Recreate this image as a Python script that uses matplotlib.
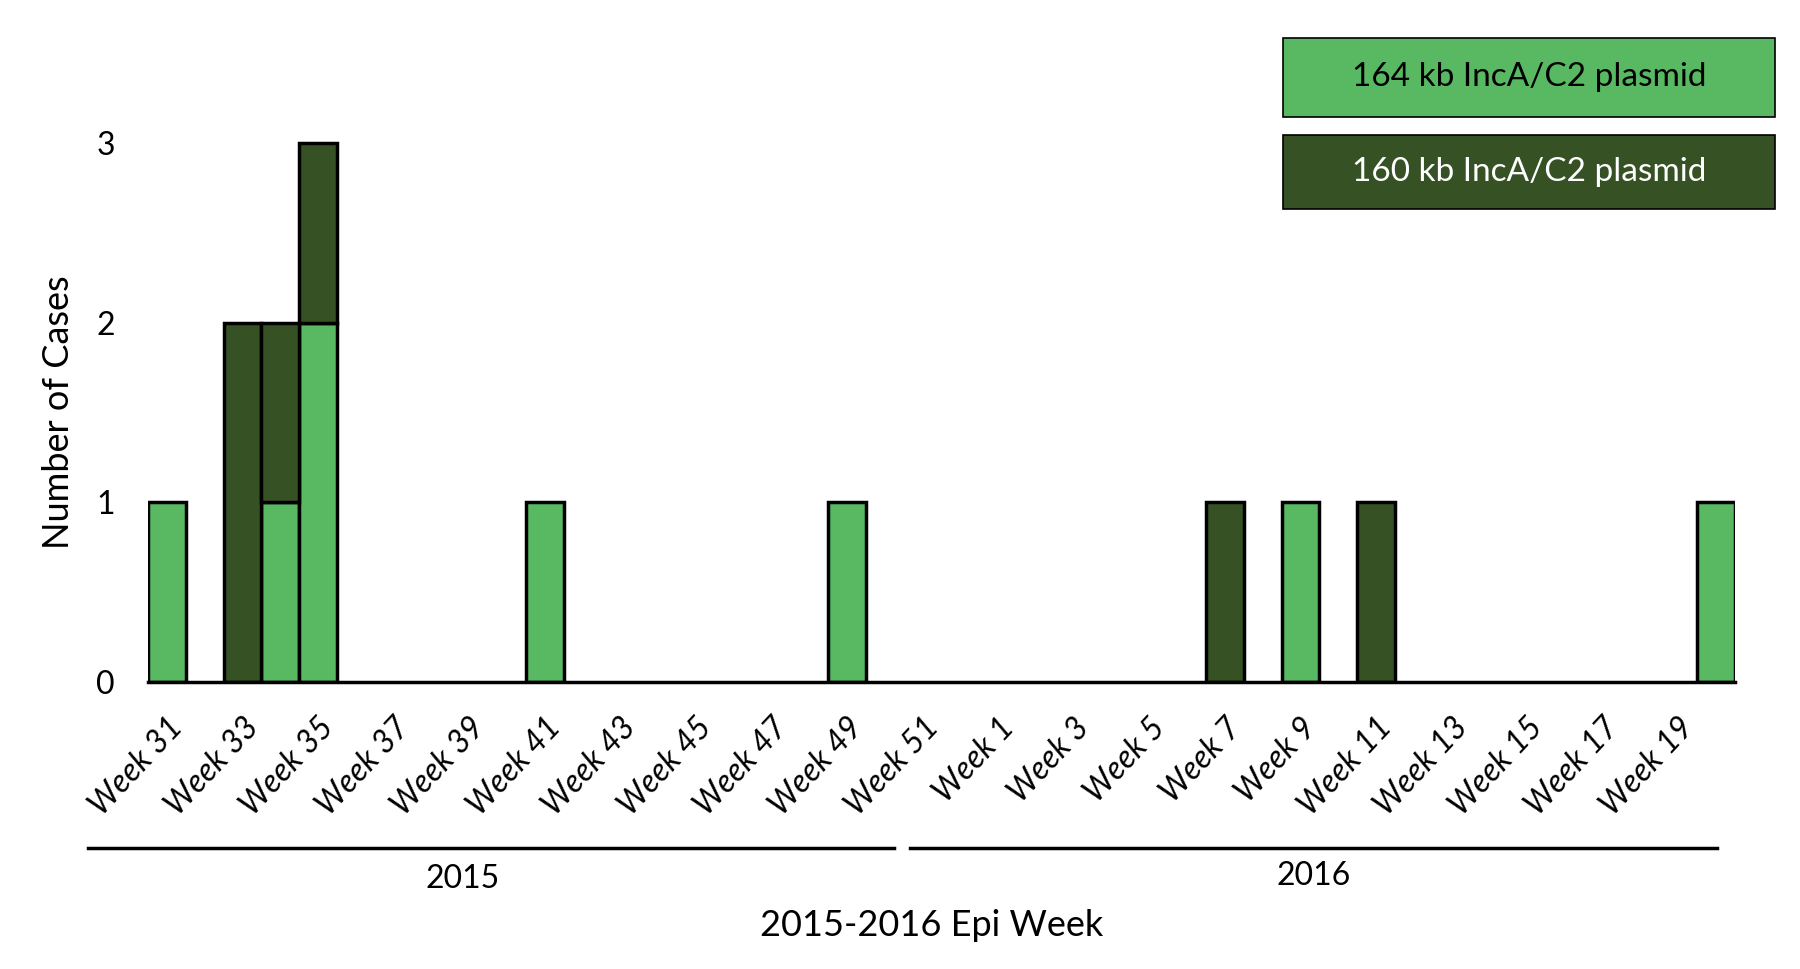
import matplotlib.pyplot as plt
from matplotlib.patches import Rectangle
from matplotlib.lines import Line2D
import numpy as np

plt.rcParams['font.family'] = ['Lato', 'DejaVu Sans']

# epi weeks 31-52 of 2015, then weeks 1-20 of 2016
weeks_2015 = list(range(31, 53))
weeks_2016 = list(range(1, 21))
light_2015 = [1, 0, 0, 1, 2, 0, 0, 0, 0, 0, 1, 0, 0, 0, 0, 0, 0, 0, 1, 0, 0, 0]
dark_2015 = [0, 0, 2, 1, 1, 0, 0, 0, 0, 0, 0, 0, 0, 0, 0, 0, 0, 0, 0, 0, 0, 0]
light_2016 = [0, 0, 0, 0, 0, 0, 0, 0, 1, 0, 0, 0, 0, 0, 0, 0, 0, 0, 0, 1]
dark_2016 = [0, 0, 0, 0, 0, 0, 1, 0, 0, 0, 1, 0, 0, 0, 0, 0, 0, 0, 0, 0]
series_names = ['164 kb IncA/C2 plasmid', '160 kb IncA/C2 plasmid']
years = ['2015', '2016']

light_col = '#58B962'
dark_col = '#365224'

labels = ['Week %d' % w for w in weeks_2015 + weeks_2016]
light = np.array(light_2015 + light_2016)
dark = np.array(dark_2015 + dark_2016)
x = np.arange(len(labels))

fig = plt.figure(figsize=(18, 9.69), dpi=100)
ax = fig.add_axes([0.0822, 0.2962, 0.8817, 0.6484])

m = light > 0
ax.bar(x[m], light[m], width=1.0, color=light_col, edgecolor='black', linewidth=2.5)
m = dark > 0
ax.bar(x[m], dark[m], width=1.0, bottom=light[m], color=dark_col, edgecolor='black', linewidth=2.5)

ax.set_xlim(-0.5, len(labels) - 0.5)
ax.set_ylim(0, 3.5)
ax.set_yticks([0, 1, 2, 3])
ax.tick_params(axis='y', length=0, labelsize=23, pad=24)
ax.set_xticks(x[::2])
ax.set_xticklabels(labels[::2], rotation=47, ha='right', va='top',
                   rotation_mode='anchor', fontsize=23, style='italic')
ax.tick_params(axis='x', length=0, pad=22)
for s in ['top', 'right', 'left']:
    ax.spines[s].set_visible(False)
ax.spines['bottom'].set_linewidth(2.5)

ax.set_ylabel('Number of Cases', fontsize=26)
ax.yaxis.set_label_coords(-0.046, 0.43)

# year brackets under the week labels
H = 969.0
W = 1800.0
for (x0, x1), yr, tx, ty in [((88, 894), years[0], 463, 879), ((910, 1717), years[1], 1314, 876)]:
    fig.add_artist(Line2D([x0 / W, x1 / W], [1 - 848 / H, 1 - 848 / H], color='black', lw=2.5))
    fig.text(tx / W, 1 - ty / H, yr, ha='center', va='center', fontsize=23)
fig.text(932 / W, 1 - 925 / H, '2015-2016 Epi Week', ha='center', va='center', fontsize=26)

# legend boxes
for (y0, y1), name, col, tcol in [((38, 117), series_names[0], light_col, 'black'),
                                 ((135, 209), series_names[1], dark_col, 'white')]:
    fig.add_artist(Rectangle((1283 / W, 1 - y1 / H), (1775 - 1283) / W, (y1 - y0) / H,
                             transform=fig.transFigure, facecolor=col, edgecolor='black', lw=1.2))
    fig.text((1283 + 1775) / 2 / W, 1 - (y0 + y1) / 2 / H, name, ha='center', va='center',
             fontsize=24, color=tcol)

fig.savefig('out.png', dpi=100)
